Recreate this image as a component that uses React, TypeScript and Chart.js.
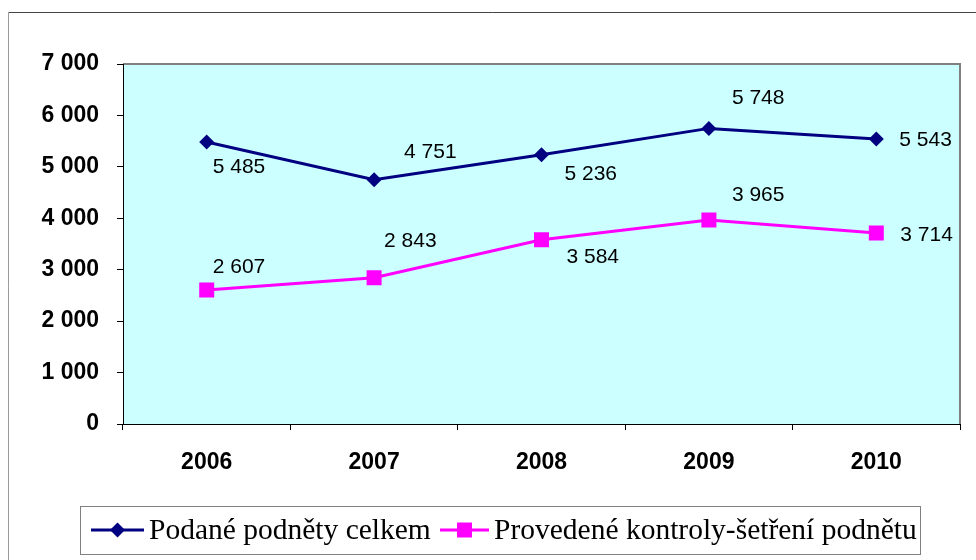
import React, { useEffect, useRef } from "react";
import { Chart, registerables } from "chart.js";

Chart.register(...registerables);

const categories = ["2006", "2007", "2008", "2009", "2010"];
const seriesNames = ["Podané podněty celkem", "Provedené kontroly-šetření podnětu"];
const podane = [5485, 4751, 5236, 5748, 5543];
const provedene = [2607, 2843, 3584, 3965, 3714];
const yTicks = [0, 1000, 2000, 3000, 4000, 5000, 6000, 7000];

// label placement (pixel offsets from each point), styling only
const podaneLabelOffsets: [number, number][] = [[6, 25], [30, -27], [23, 19], [23, -30], [23, 1]];
const provedeneLabelOffsets: [number, number][] = [[6, -23], [10, -37], [25, 18], [23, -25], [24, 2]];

const NAVY = "#000080";
const MAGENTA = "#ff00ff";
const SANS = "Arial, 'Liberation Sans', sans-serif";
const SERIF = "'Times New Roman', 'Liberation Serif', serif";

const fmt = (v: number) => String(v).replace(/\B(?=(\d{3})+(?!\d))/g, " ");

const decorPlugin = {
  id: "decor",
  beforeDraw(chart: any) {
    const { ctx, chartArea: a } = chart;
    ctx.save();
    // outer frame
    ctx.lineWidth = 1;
    ctx.strokeStyle = "#444444";
    ctx.beginPath();
    ctx.moveTo(8.5, 12.5);
    ctx.lineTo(980, 12.5);
    ctx.stroke();
    ctx.strokeStyle = "#9a9a9a";
    ctx.beginPath();
    ctx.moveTo(8.5, 12.5);
    ctx.lineTo(8.5, 570);
    ctx.stroke();
    // plot background
    ctx.fillStyle = "#ccffff";
    ctx.fillRect(a.left, a.top, a.right - a.left, a.bottom - a.top);
    ctx.strokeStyle = "#808080";
    ctx.lineWidth = 2;
    ctx.beginPath();
    ctx.moveTo(a.left, a.top);
    ctx.lineTo(a.right, a.top);
    ctx.lineTo(a.right, a.bottom);
    ctx.stroke();
    ctx.restore();
  },
  afterDatasetsDraw(chart: any) {
    const { ctx } = chart;
    const offsets = [podaneLabelOffsets, provedeneLabelOffsets];
    ctx.save();
    ctx.font = `21px ${SANS}`;
    ctx.fillStyle = "#000000";
    ctx.textAlign = "left";
    ctx.textBaseline = "middle";
    chart.data.datasets.forEach((ds: any, di: number) => {
      const meta = chart.getDatasetMeta(di);
      meta.data.forEach((pt: any, i: number) => {
        const [dx, dy] = offsets[di][i];
        ctx.fillText(fmt(ds.data[i]), pt.x + dx, pt.y + dy);
      });
    });
    ctx.restore();
  },
  afterDraw(chart: any) {
    const { ctx } = chart;
    ctx.save();
    // legend box
    ctx.strokeStyle = "#808080";
    ctx.lineWidth = 1;
    ctx.strokeRect(80.5, 506.5, 840, 48);
    const cy = 530;
    const items = [
      { x0: 91, x1: 144, color: NAVY, style: "rectRot", r: 7.5, tx: 149 },
      { x0: 440, x1: 489, color: MAGENTA, style: "rect", r: 10.6, tx: 494 },
    ];
    items.forEach((it, i) => {
      ctx.strokeStyle = it.color;
      ctx.lineWidth = 3;
      ctx.beginPath();
      ctx.moveTo(it.x0, cy);
      ctx.lineTo(it.x1, cy);
      ctx.stroke();
      ctx.fillStyle = it.color;
      const mx = (it.x0 + it.x1) / 2;
      ctx.beginPath();
      if (it.style === "rectRot") {
        ctx.moveTo(mx - it.r, cy);
        ctx.lineTo(mx, cy - it.r);
        ctx.lineTo(mx + it.r, cy);
        ctx.lineTo(mx, cy + it.r);
        ctx.closePath();
      } else {
        const s = it.r * Math.SQRT1_2;
        ctx.rect(mx - s, cy - s, 2 * s, 2 * s);
      }
      ctx.fill();
      ctx.fillStyle = "#000000";
      ctx.font = `29.5px ${SERIF}`;
      ctx.textAlign = "left";
      ctx.textBaseline = "middle";
      ctx.fillText(seriesNames[i], it.tx, cy + 1);
    });
    ctx.restore();
  },
};

export default function App() {
  const ref = useRef<HTMLCanvasElement | null>(null);
  useEffect(() => {
    if (!ref.current) return;
    const chart = new Chart(ref.current, {
      type: "line",
      data: {
        labels: categories,
        datasets: [
          {
            label: seriesNames[0],
            data: podane,
            borderColor: NAVY,
            backgroundColor: NAVY,
            borderWidth: 3,
            pointStyle: "rectRot",
            pointRadius: 7.5,
            pointHoverRadius: 7.5,
            pointBorderWidth: 0,
            tension: 0,
          },
          {
            label: seriesNames[1],
            data: provedene,
            borderColor: MAGENTA,
            backgroundColor: MAGENTA,
            borderWidth: 3,
            pointStyle: "rect",
            pointRadius: 10.6,
            pointHoverRadius: 10.6,
            pointBorderWidth: 0,
            tension: 0,
          },
        ],
      },
      options: {
        responsive: false,
        animation: false,
        events: [],
        layout: { padding: { left: 0, top: 64, right: 16, bottom: 76 } },
        plugins: { legend: { display: false }, tooltip: { enabled: false } },
        scales: {
          x: {
            type: "category",
            offset: true,
            afterFit: (s: any) => {
              s.height = 60;
            },
            grid: {
              offset: true,
              drawOnChartArea: false,
              drawTicks: true,
              tickLength: 6,
              color: "#000000",
            },
            border: { color: "#000000", width: 1 },
            ticks: {
              color: "#000000",
              font: { family: SANS, size: 23, weight: "bold" },
              padding: 19,
              maxRotation: 0,
            },
          },
          y: {
            min: 0,
            max: 7000,
            afterFit: (s: any) => {
              s.width = 123;
            },
            afterBuildTicks: (s: any) => {
              s.ticks = yTicks.map((v) => ({ value: v }));
            },
            grid: {
              drawOnChartArea: false,
              drawTicks: true,
              tickLength: 6,
              color: "#000000",
            },
            border: { color: "#000000", width: 1 },
            ticks: {
              color: "#000000",
              font: { family: SANS, size: 23, weight: "bold" },
              padding: 18,
              callback: (v: any) => fmt(Number(v)),
            },
          },
        },
      },
      plugins: [decorPlugin],
    });
    return () => chart.destroy();
  }, []);
  return (
    <div style={{ position: "absolute", left: 0, top: 0, width: 976, height: 560 }}>
      <canvas ref={ref} width={976} height={560} style={{ display: "block" }} />
    </div>
  );
}
